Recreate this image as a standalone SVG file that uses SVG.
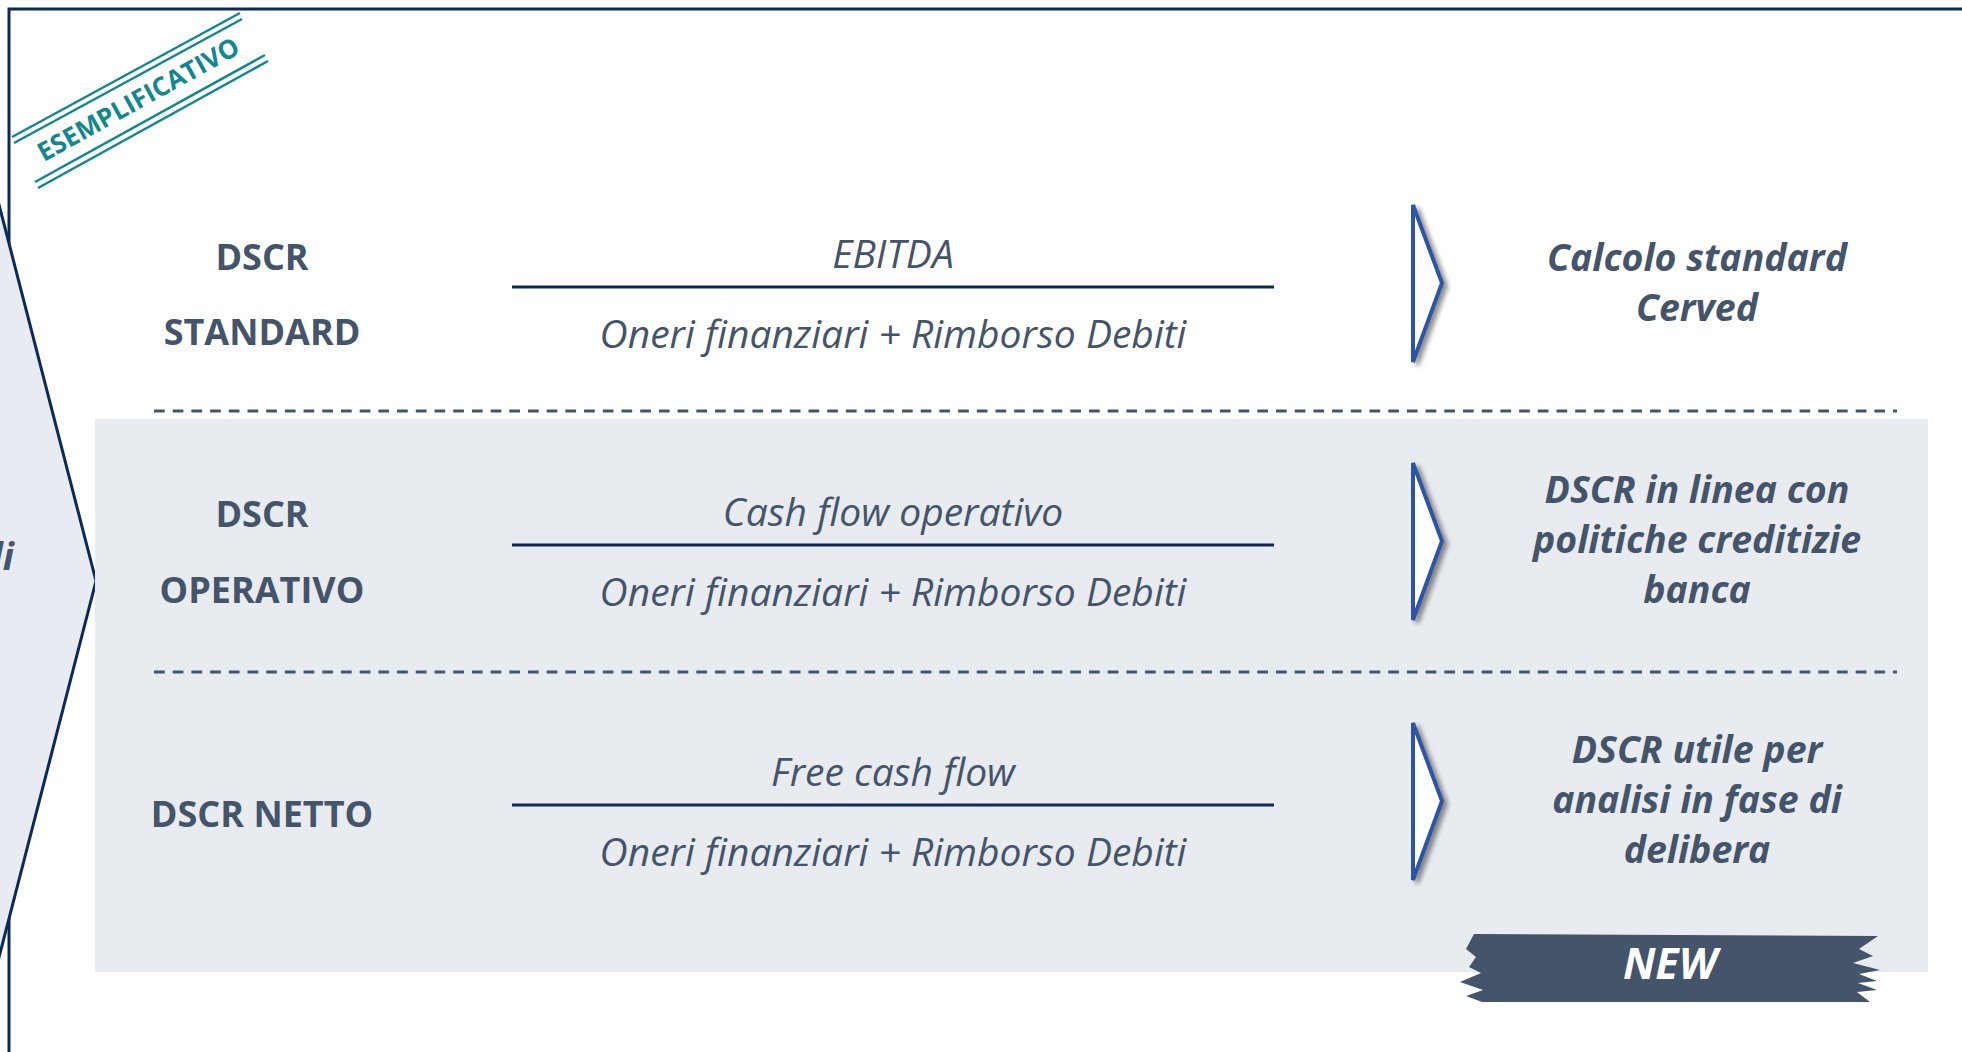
<svg xmlns="http://www.w3.org/2000/svg" width="1962" height="1052" viewBox="0 0 1962 1052">
<defs>
<style>
.lbl{font-family:"Open Sans","Liberation Sans",sans-serif;font-weight:700;font-size:36px;fill:#44546a;text-anchor:middle}
.frm{font-family:"Open Sans","Liberation Sans",sans-serif;font-style:italic;font-size:39px;fill:#44546a;text-anchor:middle}
.res{font-family:"Open Sans","Liberation Sans",sans-serif;font-style:italic;font-weight:700;font-size:37.5px;fill:#44546a;text-anchor:middle}
.bar{stroke:#0c2a56;stroke-width:3;fill:none}
.dash{stroke:#44546a;stroke-width:3;stroke-dasharray:10.7 8;fill:none}
.arr{fill:#ffffff;stroke:#2f55a4;stroke-width:4;stroke-linejoin:miter;filter:url(#sh)}
.teal{stroke:#12878f;stroke-width:2.5;fill:none}
</style>
<filter id="sh" x="-50%" y="-20%" width="200%" height="140%">
<feGaussianBlur in="SourceAlpha" stdDeviation="2.5"/>
<feOffset dx="4" dy="3" result="b"/>
<feComponentTransfer><feFuncA type="linear" slope="0.45"/></feComponentTransfer>
<feMerge><feMergeNode/><feMergeNode in="SourceGraphic"/></feMerge>
</filter>
</defs>
<rect x="0" y="0" width="1962" height="1052" fill="#ffffff"/>
<g id="frame">
<path d="M9 1052 V9 H1962" stroke="#0c2a56" stroke-width="3" fill="none"/>
</g>
<g id="left-chevron">
<path d="M-5 189 L96 581 L-5 973 Z" fill="#e8ebf1" stroke="#0c2a56" stroke-width="3"/>
<text x="14" y="570" class="res" style="text-anchor:end">di</text>
</g>
<g id="stamp">
<line x1="12" y1="137" x2="240" y2="13" class="teal"/>
<line x1="14" y1="143" x2="242" y2="19" class="teal"/>
<line x1="35" y1="182" x2="265" y2="55" class="teal"/>
<line x1="38" y1="188" x2="268" y2="61" class="teal"/>
<text transform="translate(138,99) rotate(-29)" y="9.5" font-family="Open Sans, sans-serif" font-weight="700" font-size="26" fill="#12878f" text-anchor="middle">ESEMPLIFICATIVO</text>
</g>
<g id="panel">
<rect x="95" y="419" width="1833" height="553" fill="#e8ebf0"/>
</g>
<g id="connectors">
<line x1="154" y1="411" x2="1897" y2="411" class="dash"/>
<line x1="154" y1="672" x2="1897" y2="672" class="dash"/>
<line x1="512" y1="287" x2="1274" y2="287" class="bar"/>
<line x1="512" y1="545" x2="1274" y2="545" class="bar"/>
<line x1="512" y1="805" x2="1274" y2="805" class="bar"/>
<polygon points="1413,205 1442,283 1413,362" class="arr"/>
<polygon points="1413,463 1442,541 1413,620" class="arr"/>
<polygon points="1413,723 1442,801 1413,880" class="arr"/>
</g>
<g id="row-standard">
<text x="262" y="270" class="lbl">DSCR</text>
<text x="262" y="345" class="lbl">STANDARD</text>
<text x="893" y="268" class="frm">EBITDA</text>
<text x="893" y="348" class="frm">Oneri finanziari + Rimborso Debiti</text>
<text x="1697" y="271" class="res">Calcolo standard</text>
<text x="1697" y="321" class="res">Cerved</text>
</g>
<g id="row-operativo">
<text x="262" y="527" class="lbl">DSCR</text>
<text x="262" y="603" class="lbl">OPERATIVO</text>
<text x="893" y="526" class="frm">Cash flow operativo</text>
<text x="893" y="606" class="frm">Oneri finanziari + Rimborso Debiti</text>
<text x="1697" y="503" class="res">DSCR in linea con</text>
<text x="1697" y="553" class="res">politiche creditizie</text>
<text x="1697" y="603" class="res">banca</text>
</g>
<g id="row-netto">
<text x="262" y="827" class="lbl">DSCR NETTO</text>
<text x="893" y="786" class="frm">Free cash flow</text>
<text x="893" y="866" class="frm">Oneri finanziari + Rimborso Debiti</text>
<text x="1697" y="763" class="res">DSCR utile per</text>
<text x="1697" y="813" class="res">analisi in fase di</text>
<text x="1697" y="863" class="res">delibera</text>
</g>
<g id="new-badge">
<path d="M1474,934 L1878,936 L1859,949 L1873,956 L1853,963 L1880,970 L1859,974 L1877,981 L1858,983 L1877,990 L1857,992 L1870,1002 L1482,1002 L1466,996 L1483,990 L1460,982 L1481,973 L1469,967 L1476,957 L1466,949 Z" fill="#44546a"/>
<text x="1670" y="979" font-family="Open Sans, sans-serif" font-style="italic" font-weight="700" font-size="43" fill="#ffffff" text-anchor="middle">NEW</text>
</g>
</svg>
